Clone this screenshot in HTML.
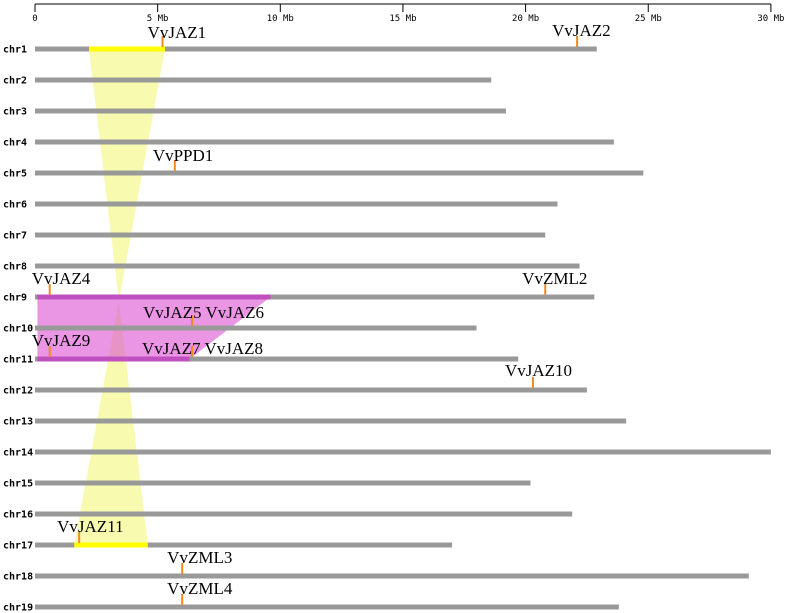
<!DOCTYPE html>
<html><head><meta charset="utf-8"><style>
body{margin:0;background:#fff}
svg{display:block}
.cl{font-family:"DejaVu Sans Mono","Liberation Mono",monospace;font-weight:bold;font-size:10px;fill:#000}
.tk{font-family:"DejaVu Sans Mono","Liberation Mono",monospace;font-size:9px;fill:#000}
.gl{font-family:"Liberation Serif",serif;font-size:17px;fill:#000}
</style></head><body>
<svg id="c" width="787" height="613"></svg>
<script>
const chromNames=["chr1","chr2","chr3","chr4","chr5","chr6","chr7","chr8","chr9","chr10","chr11","chr12","chr13","chr14","chr15","chr16","chr17","chr18","chr19"];
const chromLengths=[22.9,18.6,19.2,23.6,24.8,21.3,20.8,22.2,22.8,18.0,19.7,22.5,24.1,30.0,20.2,21.9,17.0,29.1,23.8];
const tickValues=[0,5,10,15,20,25,30];
const tickLabels=["0","5 Mb","10 Mb","15 Mb","20 Mb","25 Mb","30 Mb"];
const geneNames=["VvJAZ1","VvJAZ2","VvPPD1","VvJAZ4","VvZML2","VvJAZ5 VvJAZ6","VvJAZ9","VvJAZ7 VvJAZ8","VvJAZ10","VvJAZ11","VvZML3","VvZML4"];
const geneChrom=[0,0,4,8,8,9,10,10,11,16,17,18];
const genePos=[5.2,22.1,5.7,0.6,20.8,6.4,0.6,6.4,20.3,1.8,6.0,6.0];
const synChromA=[0,8];
const synChromB=[16,10];
const synStartA=[2.2,0.1];
const synEndA=[5.3,9.6];
const synStartB=[1.6,0.1];
const synEndB=[4.6,6.3];
const synTwist=[true,false];
const synColor=["rgba(240,245,110,0.55)","rgba(220,80,210,0.6)"];
const synBar=["#ffff00","#c050c0"];
// label layout offsets (pixels, style only)
const labDx=[-15,-25,-22,-18,-23,-49,-18,-50,-28,-22,-15,-15];
const labDy=[-11,-13,-12,-13,-13,-10,-13,-5,-14,-13,-13,-13];

const X=v=>35+v*24.53, Y=i=>49+i*31;
const svg=document.getElementById('c'),NS="http://www.w3.org/2000/svg";
function mk(t,a,p){const e=document.createElementNS(NS,t);for(const k in a)e.setAttribute(k,a[k]);(p||svg).appendChild(e);return e;}
let e=mk('line',{x1:X(0),x2:X(30),y1:4,y2:4,stroke:'#000'});


tickValues.forEach((v,i)=>{
 let t=mk('line',{x1:X(v),x2:X(v),y1:4,y2:12,stroke:'#000'});
 
 
 let l=mk('text',{x:X(v),y:21,'text-anchor':'middle',class:'tk'});l.textContent=tickLabels[i];
 
 
});
synChromA.forEach((a,i)=>{
 const b=synChromB[i];
 const pts=synTwist[i]?
 [[X(synStartA[i]),Y(a)],[X(synEndA[i]),Y(a)],[X(synStartB[i]),Y(b)],[X(synEndB[i]),Y(b)]]:
 [[X(synStartA[i]),Y(a)],[X(synEndA[i]),Y(a)],[X(synEndB[i]),Y(b)],[X(synStartB[i]),Y(b)]];
 let p=mk('polygon',{points:pts.map(q=>q.join(',')).join(' '),fill:synColor[i]});
 
 
});
chromNames.forEach((n,i)=>{
 let r=mk('rect',{x:X(0),y:Y(i)-2.5,width:X(chromLengths[i])-X(0),height:5,fill:'#999'});
 
 
 let l=mk('text',{x:3,y:Y(i)+3.5,class:'cl'});l.textContent=n;
 
 
});
synChromA.forEach((a,i)=>{
 [[a,synStartA[i],synEndA[i]],[synChromB[i],synStartB[i],synEndB[i]]].forEach(s=>{
  let r=mk('rect',{x:X(s[1]),y:Y(s[0])-2.5,width:X(s[2])-X(s[1]),height:5,fill:synBar[i]});
  
  
 });
});
geneNames.forEach((g,i)=>{
 const x=X(genePos[i]),y=Y(geneChrom[i]);
 let m=mk('line',{x1:x,x2:x,y1:y-13,y2:y-2,stroke:'#f08a20','stroke-width':2});
 
 
 let t=mk('text',{x:x+labDx[i],y:y+labDy[i],class:'gl'});t.textContent=g;
 
 
});
</script>
</body></html>
